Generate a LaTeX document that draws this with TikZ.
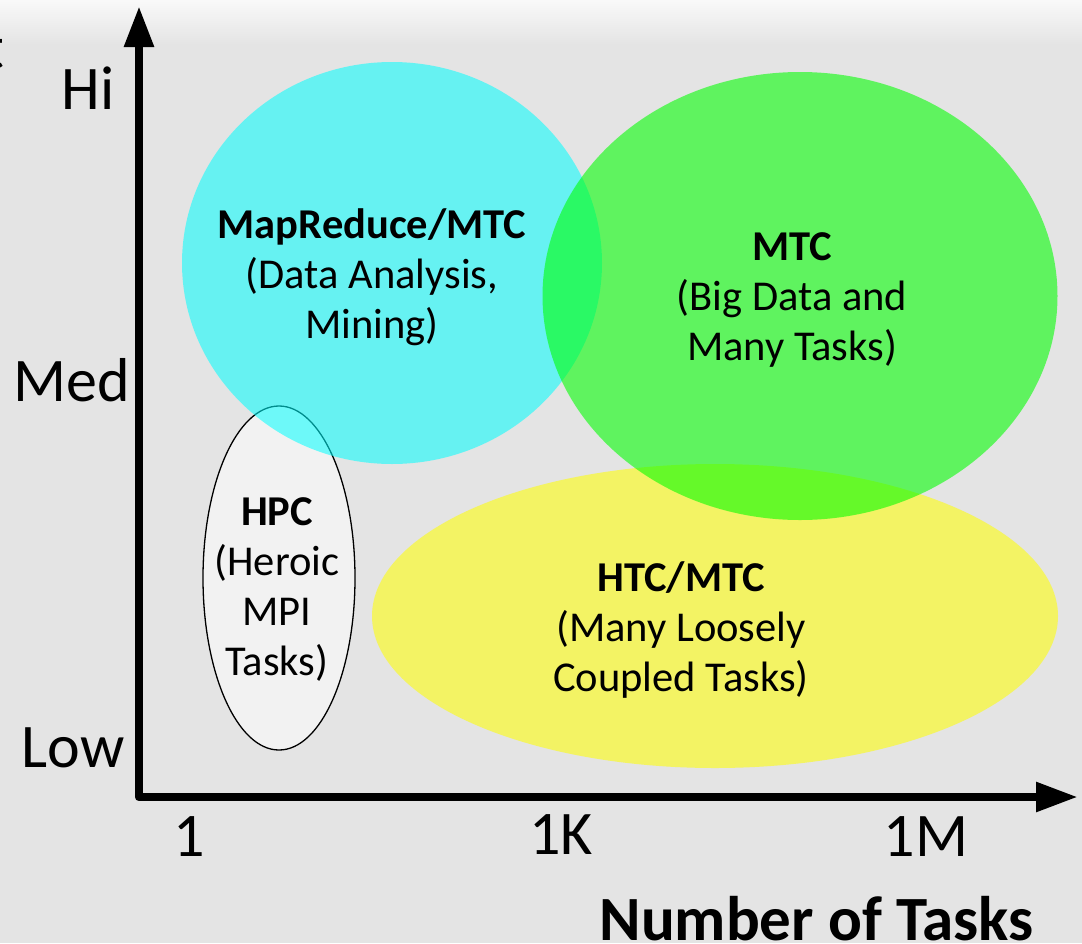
\documentclass[tikz,border=0pt]{standalone}
\usepackage{fontspec}
\setmainfont{Carlito}
\usetikzlibrary{arrows.meta,shapes.geometric}
\definecolor{bggray}{RGB}{228,228,228}
\definecolor{bgtop}{RGB}{249,249,249}
\definecolor{hpcfill}{RGB}{242,242,242}
\definecolor{mrcyan}{RGB}{0,255,255}
\definecolor{mtcgreen}{RGB}{0,255,0}
\definecolor{htcyellow}{RGB}{255,255,0}
\begin{document}
\begin{tikzpicture}[x=1pt,y=-1pt,
  blob/.style={ellipse, inner sep=0pt, draw=none},
  axlab/.style={font=\fontsize{62}{62}\selectfont, inner sep=0pt},
  lab/.style={font=\fontsize{42.5}{50}\selectfont, align=center, inner sep=0pt},
  axis/.style={line width=8.5pt, line join=round,
    {Triangle[length=41pt,width=28pt]}-{Triangle[length=42pt,width=28pt]}}
]
\useasboundingbox (0,0) rectangle (1082,943);
\fill[bggray] (0,0) rectangle (1082,943);
\shade[top color=bgtop, bottom color=bggray] (0,0) rectangle (1082,45);

% partial letter at left edge
\node[axlab, anchor=base east] (cut) at (4,68) {t};

% regions
\node[blob, fill=hpcfill, draw=black, line width=1.3pt,
  minimum width=152pt, minimum height=344pt] (hpc) at (279,578) {};
\node[blob, fill=mrcyan, fill opacity=0.55,
  minimum width=420pt, minimum height=402pt] (mr) at (392,263) {};
\node[blob, fill=htcyellow, fill opacity=0.56,
  minimum width=686pt, minimum height=304pt] (htc) at (715,616) {};
\node[blob, fill=mtcgreen, fill opacity=0.58,
  minimum width=515pt, minimum height=448pt] (mtc) at (800,296) {};

% axes
\coordinate (ytop) at (139,6);
\coordinate (O) at (139,797);
\coordinate (xend) at (1078,797);
\draw[axis] (ytop) -- (O) -- (xend);

% axis labels
\node[axlab] (hi) at (88,88) {Hi};
\node[axlab] (med) at (72,380) {Med};
\node[axlab] (low) at (73,748) {Low};
\node[axlab] (one) at (189,837) {1};
\node[axlab] (onek) at (561,835) {1K};
\node[axlab] (onem) at (926,837) {1M};
\node[font=\fontsize{63}{63}\selectfont\bfseries, inner sep=0pt, anchor=base east]
  (xlabel) at (1034,940) {Number of Tasks};

% region texts
\node[lab] (mrt) at (372,277) {\textbf{MapReduce/MTC}\\(Data Analysis,\\Mining)};
\node[lab] (mtct) at (792,300) {\textbf{MTC}\\(Big Data and\\Many Tasks)};
\node[lab] (hpct) at (277,590) {\textbf{HPC}\\(Heroic\\MPI\\Tasks)};
\node[lab] (htct) at (681,630) {\textbf{HTC/MTC}\\(Many Loosely\\Coupled Tasks)};
\end{tikzpicture}
\end{document}
